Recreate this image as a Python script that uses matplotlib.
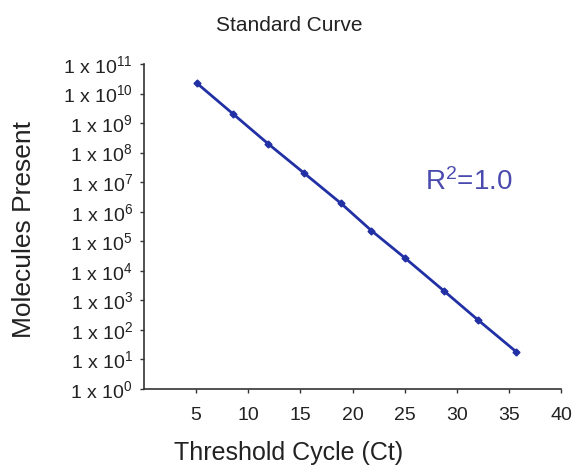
import numpy as np
import matplotlib
matplotlib.use('Agg')
import matplotlib.pyplot as plt
import matplotlib.ticker as ticker

plt.rcParams['font.family'] = ['Liberation Sans', 'DejaVu Sans']
plt.rcParams['mathtext.fontset'] = 'custom'
plt.rcParams['mathtext.rm'] = 'Liberation Sans'
plt.rcParams['mathtext.it'] = 'Liberation Sans'

# threshold cycle vs molecules present
Ct = [5.1, 8.5, 11.9, 15.3, 18.9, 21.8, 25.0, 28.75, 32.0, 35.7]
Molecules = [2.2e10, 2.1e9, 2.0e8, 2.1e7, 1.9e6, 2.3e5, 2.75e4, 2.1e3, 2.2e2, 18]

x_ticks = [5, 10, 15, 20, 25, 30, 35, 40]
y_exps = list(range(0, 12))

fig = plt.figure(figsize=(5.78, 4.69), dpi=100)
ax = fig.add_axes([0.249, 0.1706, 0.722, 0.693])

line_c = '#2130a4'
ax.plot(Ct, Molecules, color=line_c, lw=2, marker='D', ms=3.5, mec=line_c, mfc=line_c)

ax.set_yscale('log')
ax.set_xlim(0, 40)
ax.set_ylim(1, 1e11)
ax.set_xticks(x_ticks)
ax.set_yticks([10.0 ** e for e in y_exps])
ax.set_yticklabels(['1 x 10$^{%d}$' % e for e in y_exps])
ax.yaxis.set_minor_locator(ticker.NullLocator())

for s in ['top', 'right']:
    ax.spines[s].set_visible(False)
for s in ['left', 'bottom']:
    ax.spines[s].set_color('#333333')
    ax.spines[s].set_linewidth(1.2)

ax.tick_params(axis='both', direction='out', length=3, width=1, colors='#333333',
               labelcolor='#222222', labelsize=14)
ax.tick_params(axis='y', pad=5)
ax.tick_params(axis='x', pad=10)

txt = '#222222'
fig.text(0.5, 1 - 31 / 469, 'Standard Curve', fontsize=15, color=txt, ha='center', va='baseline')
fig.text(0.5, 1 - 460 / 469, 'Threshold Cycle (Ct)', fontsize=18, color=txt, ha='center', va='baseline')
fig.text(24 / 578, 1 - 229 / 469, 'Molecules Present', fontsize=19, color=txt, ha='center', va='center',
         rotation=90)

ax.text(31.1, 10 ** 7, 'R$^{2}$=1.0', fontsize=20, color='#4a4aae', ha='center', va='center')

fig.savefig('out.png', dpi=100)
